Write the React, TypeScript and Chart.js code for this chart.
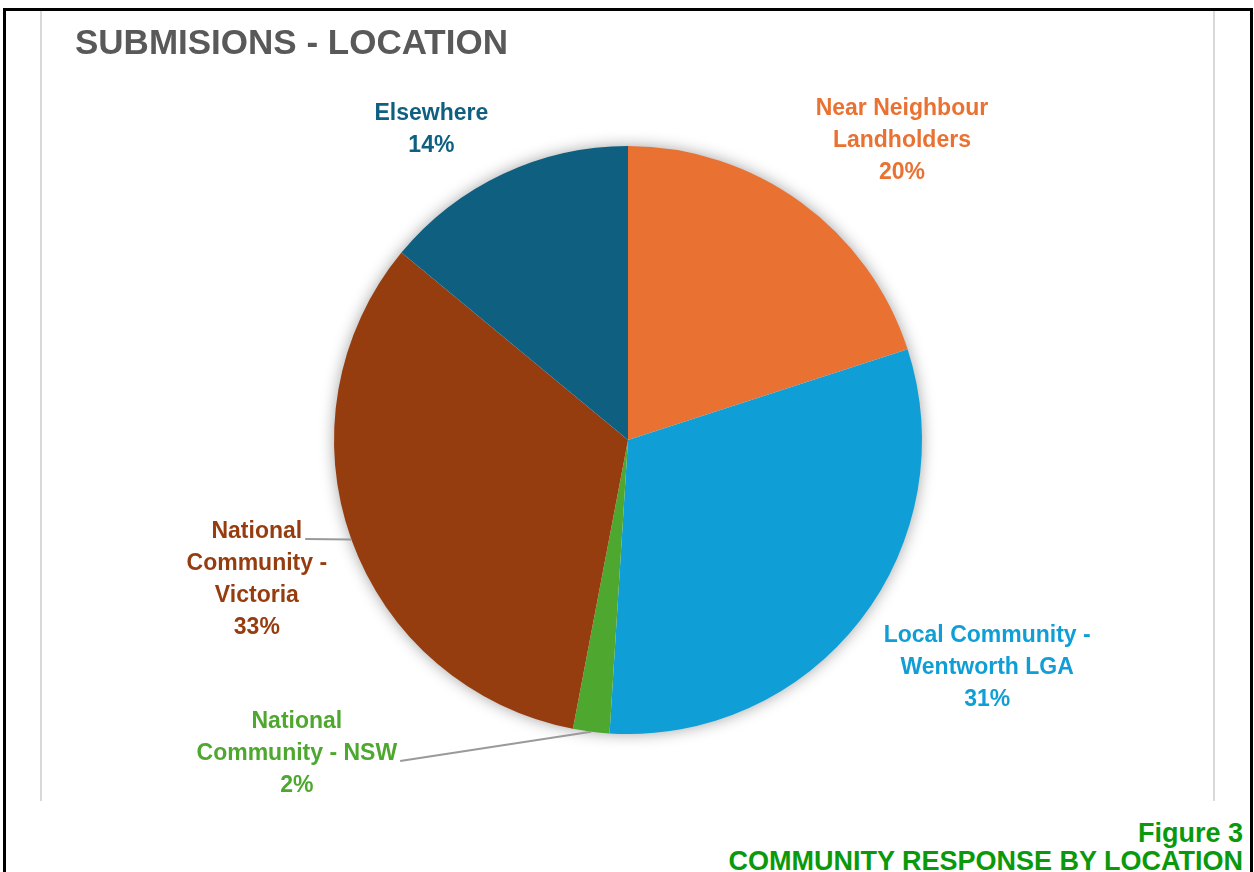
import React, { useEffect, useRef } from "react";
import { Chart, registerables } from "chart.js";

Chart.register(...registerables);

const chartTitle = "SUBMISIONS - LOCATION";
const captionLines = ["Figure 3", "COMMUNITY RESPONSE BY LOCATION"];

const categories = [
  "Near Neighbour Landholders",
  "Local Community - Wentworth LGA",
  "National Community - NSW",
  "National Community - Victoria",
  "Elsewhere",
];
const values = [20, 31, 2, 33, 14];
const sliceColors = ["#E97132", "#0F9ED5", "#4EA72E", "#963D10", "#0E5F80"];
const labelLines = [
  ["Near Neighbour", "Landholders"],
  ["Local Community -", "Wentworth LGA"],
  ["National", "Community - NSW"],
  ["National", "Community -", "Victoria"],
  ["Elsewhere"],
];

const LABEL_FONT = "bold 23px 'Liberation Sans', Arial, sans-serif";

const pieLabelsPlugin = {
  id: "pieLabels",
  beforeDatasetsDraw(chart: any) {
    const arc = chart.getDatasetMeta(0).data[0];
    if (!arc) return;
    const { x, y, outerRadius } = arc.getProps(["x", "y", "outerRadius"], true);
    const ctx = chart.ctx;
    ctx.save();
    ctx.shadowColor = "rgba(0,0,0,0.4)";
    ctx.shadowBlur = 16;
    ctx.beginPath();
    ctx.arc(x, y, outerRadius - 1, 0, Math.PI * 2);
    ctx.fillStyle = "#ffffff";
    ctx.fill();
    ctx.restore();
  },
  afterDatasetsDraw(chart: any, _args: any, opts: any) {
    const meta = chart.getDatasetMeta(0);
    const ctx = chart.ctx;
    const data = chart.data.datasets[0].data as number[];
    const total = data.reduce((a, b) => a + b, 0);
    const placement = opts.placement || [];
    const lineH = opts.lineHeight || 32;
    const shiftY = opts.shiftY || 0;
    ctx.save();
    ctx.font = opts.font;
    ctx.textAlign = "center";
    ctx.textBaseline = "middle";
    meta.data.forEach((el: any, i: number) => {
      const p = el.getProps(["x", "y", "startAngle", "endAngle", "outerRadius"], true);
      const mid = (p.startAngle + p.endAngle) / 2;
      const pl = placement[i] || { dA: 0, extra: 60 };
      const a = mid + (pl.dA * Math.PI) / 180;
      const r = p.outerRadius + pl.extra;
      const cx = p.x + Math.cos(a) * r;
      const cy = p.y + Math.sin(a) * r + shiftY;
      const lines = [...labelLines[i], Math.round((data[i] / total) * 100) + "%"];
      const n = lines.length;
      const lineY = (j: number) => cy + (j - (n - 1) / 2) * lineH;
      if (pl.leaderLine !== undefined) {
        const k = pl.leaderLine;
        const w = ctx.measureText(lines[k]).width;
        const ex = cx + w / 2 + 3;
        const ey = lineY(k) + 7;
        const sx = p.x + Math.cos(mid) * p.outerRadius;
        const sy = p.y + Math.sin(mid) * p.outerRadius;
        ctx.beginPath();
        ctx.moveTo(sx, sy);
        ctx.lineTo(ex, ey);
        ctx.strokeStyle = "#9a9a9a";
        ctx.lineWidth = 2;
        ctx.stroke();
      }
      ctx.fillStyle = sliceColors[i];
      lines.forEach((t, j) => ctx.fillText(t, cx, lineY(j)));
    });
    ctx.restore();
  },
};

export default function App() {
  const canvasRef = useRef<HTMLCanvasElement>(null);

  useEffect(() => {
    if (!canvasRef.current) return;
    const chart = new Chart(canvasRef.current, {
      type: "pie",
      data: {
        labels: categories,
        datasets: [
          {
            data: values,
            backgroundColor: sliceColors,
            borderWidth: 0,
          },
        ],
      },
      options: {
        responsive: false,
        animation: false,
        devicePixelRatio: 1,
        rotation: 0,
        layout: { padding: { top: 135, bottom: 67, left: 1, right: 0 } },
        plugins: {
          legend: { display: false },
          tooltip: { enabled: false },
          title: { display: false },
          pieLabels: {
            font: LABEL_FONT,
            lineHeight: 32,
            shiftY: 2,
            placement: [
              { dA: 6.3, extra: 113 },
              { dA: -5.7, extra: 130 },
              { dA: 39.5, extra: 161, leaderLine: 1 },
              { dA: -0.6, extra: 102, leaderLine: 0 },
              { dA: -7.0, extra: 75 },
            ],
          },
        } as any,
      },
      plugins: [pieLabelsPlugin],
    });
    return () => chart.destroy();
  }, []);

  return (
    <div
      style={{
        position: "absolute",
        left: 0,
        top: 0,
        width: 1254,
        height: 872,
        overflow: "hidden",
        background: "#ffffff",
      }}
    >
      <div
        style={{
          position: "absolute",
          left: 3,
          top: 8,
          width: 1244,
          height: 900,
          borderLeft: "3px solid #000",
          borderRight: "3px solid #000",
          borderTop: "3px solid #000",
        }}
      />
      <div style={{ position: "absolute", left: 40, top: 11, width: 2, height: 790, background: "#d9d9d9" }} />
      <div style={{ position: "absolute", left: 1213, top: 11, width: 2, height: 790, background: "#d9d9d9" }} />
      <canvas
        ref={canvasRef}
        width={1171}
        height={790}
        style={{ position: "absolute", left: 42, top: 11, width: 1171, height: 790 }}
      />
      <div
        style={{
          position: "absolute",
          left: 75,
          top: 24,
          font: "bold 35px/35px 'Liberation Sans', Arial, sans-serif",
          color: "#595959",
          whiteSpace: "nowrap",
        }}
      >
        {chartTitle}
      </div>
      <div
        style={{
          position: "absolute",
          right: 11,
          top: 819,
          font: "bold 27px/28px 'Liberation Sans', Arial, sans-serif",
          color: "#0A990A",
          textAlign: "right",
          whiteSpace: "nowrap",
        }}
      >
        {captionLines.map((t, i) => (
          <div key={i}>{t}</div>
        ))}
      </div>
    </div>
  );
}
